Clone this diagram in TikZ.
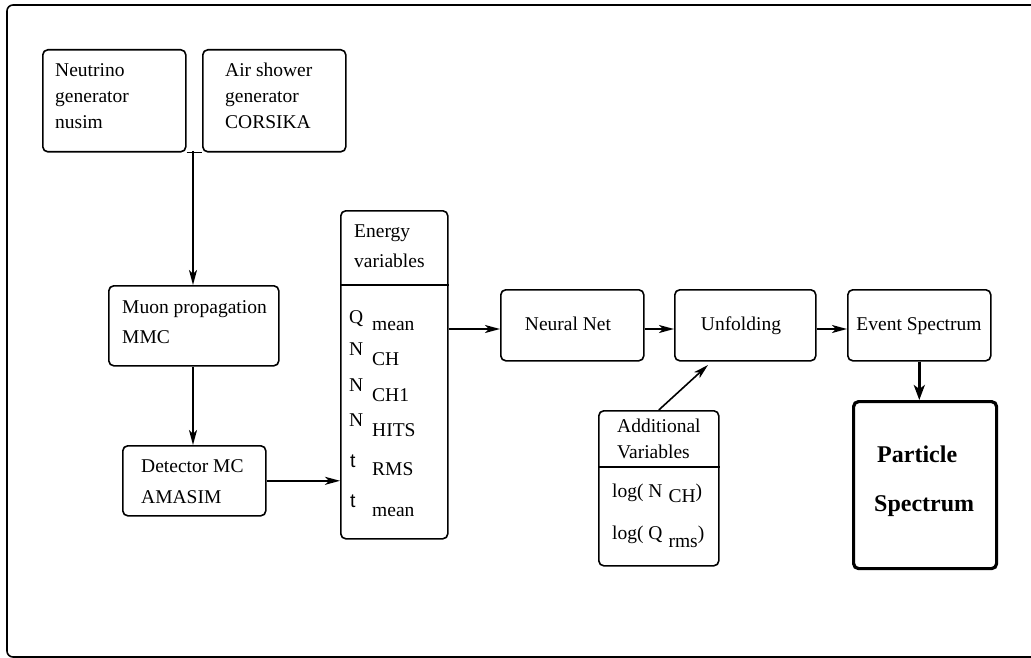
\documentclass[tikz,border=0pt]{standalone}
\usepackage{fontspec}
\setmainfont{Liberation Serif}
\newfontfamily\sansfam{Liberation Sans}
\usetikzlibrary{arrows.meta}
\newcommand{\sft}{{\sansfam t}}
\tikzset{
 box/.style={draw, line width=1.6pt, rounded corners=5pt, inner sep=0pt, anchor=north west},
 txt/.style={anchor=base west, inner sep=0pt, font=\fontsize{19.5}{22}\selectfont},
 ctxt/.style={anchor=base, inner sep=0pt, font=\fontsize{19.5}{22}\selectfont},
 btxt/.style={anchor=base west, inner sep=0pt, font=\fontsize{24}{28}\selectfont\bfseries},
 arr/.style={line width=1.6pt, -{Stealth[length=15pt,width=8pt,inset=4pt]}},
 thickarr/.style={line width=3.2pt, -{Stealth[length=15pt,width=11pt,inset=4pt]}},
 frame/.style={draw, line width=1.6pt, rounded corners=6pt},
 divider/.style={line width=1.6pt},
}
\begin{document}
\begin{tikzpicture}[x=1pt,y=-1pt]
\useasboundingbox (0,0) rectangle (1031,658);
\draw[frame] (7,5) rectangle (1050,657);

% boxes
\node[box, minimum width=143pt, minimum height=102pt] (nu) at (42,49) {};
\node[box, minimum width=143pt, minimum height=102pt] (air) at (202,49) {};
\node[box, minimum width=170pt, minimum height=80pt] (muon) at (108,285) {};
\node[box, minimum width=143pt, minimum height=70pt] (det) at (122,445) {};
\node[box, minimum width=107pt, minimum height=328pt] (energy) at (340,210) {};
\node[box, minimum width=143pt, minimum height=71pt] (nn) at (500,289) {};
\node[box, minimum width=141pt, minimum height=71pt] (unf) at (674,289) {};
\node[box, minimum width=143pt, minimum height=71pt] (event) at (847,289) {};
\node[box, line width=3.2pt, minimum width=143pt, minimum height=167pt] (part) at (852,400) {};
\node[box, minimum width=120pt, minimum height=155pt] (add) at (598,410) {};

% dividers
\draw[divider] (energy.west |- 0,285) -- (energy.east |- 0,285);
\draw[divider] (add.west |- 0,467) -- (add.east |- 0,467);

% texts
\node[txt] (nu1) at (55,77) {Neutrino};
\node[txt] (nu2) at (55,103) {generator};
\node[txt] (nu3) at (55,129) {nusim};
\node[txt] (air1) at (225,77) {Air shower};
\node[txt] (air2) at (225,103) {generator};
\node[txt] (air3) at (225,129) {CORSIKA};
\node[txt] (mu1) at (122,313) {Muon propagation};
\node[txt] (mu2) at (122,343) {MMC};
\node[txt] (de1) at (141,472) {Detector MC};
\node[txt] (de2) at (141,503) {AMASIM};
\node[txt] (en1) at (354,237) {Energy};
\node[txt] (en2) at (354,267) {variables};
\node[txt] (v1) at (349,323) {\makebox[23pt][l]{Q}\raisebox{-7pt}{mean}};
\node[txt] (v2) at (349,355) {\makebox[23pt][l]{N}\raisebox{-10pt}{CH}};
\node[txt] (v3) at (349,391) {\makebox[23pt][l]{N}\raisebox{-10pt}{CH1}};
\node[txt] (v4) at (349,426) {\makebox[23pt][l]{N}\raisebox{-10pt}{HITS}};
\node[txt] (v5) at (350,467) {\makebox[22pt][l]{\sft}\raisebox{-8pt}{RMS}};
\node[txt] (v6) at (350,507) {\makebox[22pt][l]{\sft}\raisebox{-9pt}{mean}};
\node[ctxt] (nnt) at (568,330) {Neural Net};
\node[ctxt] (unft) at (741,330) {Unfolding};
\node[ctxt] (evt) at (919,330) {Event Spectrum};
\node[btxt] (pa1) at (877,462) {Particle};
\node[btxt] (pa2) at (874,511) {Spectrum};
\node[txt] (ad1) at (617,432) {Additional};
\node[txt] (ad2) at (617,458) {Variables};
\node[txt] (ad3) at (612,497) {log( N\hspace{6pt}\raisebox{-5pt}{CH})};
\node[txt] (ad4) at (612,539) {log( Q\hspace{6pt}\raisebox{-8pt}{rms})};

% connectors
\coordinate (j) at (193,151);
\draw[divider] (nu.south east) -- (air.south west);
\draw[arr] (j) -- (j |- muon.north);
\draw[arr] (muon.south -| j) -- (det.north -| j);
\draw[arr] (det.east) -- (det.east -| energy.west);
\coordinate (row) at (0,329);
\draw[arr] (energy.east |- row) -- (nn.west |- row);
\draw[arr] (nn.east |- row) -- (unf.west |- row);
\draw[arr] (unf.east |- row) -- (event.west |- row);
\draw[thickarr] (event.south) -- (event.south |- part.north);
\coordinate (ue) at (708,365);
\draw[arr] (add.north) -- (ue);
\end{tikzpicture}
\end{document}
